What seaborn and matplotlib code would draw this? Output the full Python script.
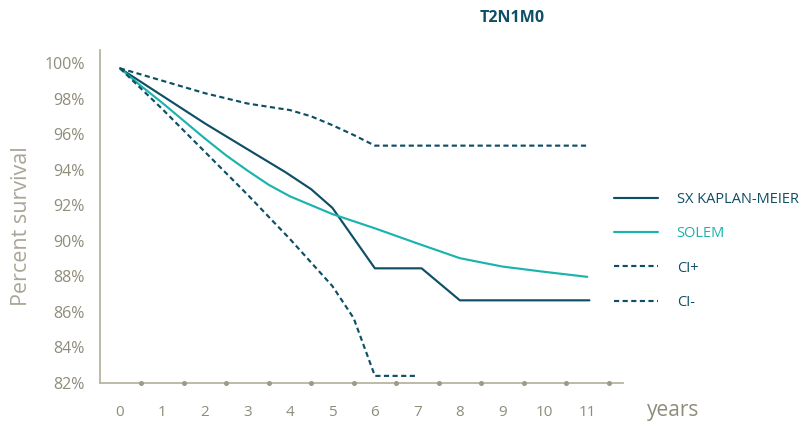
import numpy as np
import pandas as pd
import matplotlib
matplotlib.use('Agg')
import matplotlib.pyplot as plt
import seaborn as sns

# Data (years, percent survival)
km_years = [0, 1, 2, 3, 3.9, 4.5, 5.0, 6.0, 7.1, 8.0, 11.05]
km_pct = [99.7, 98.15, 96.6, 95.15, 93.85, 92.9, 91.85, 88.45, 88.45, 86.65, 86.65]

solem_years = [0, 0.5, 1, 1.5, 2, 2.5, 3, 3.5, 4, 5, 6, 7, 8, 9, 10, 11]
solem_pct = [99.7, 98.7, 97.75, 96.75, 95.75, 94.8, 93.95, 93.15, 92.5, 91.5, 90.7, 89.85, 89.02, 88.55, 88.25, 87.97]

ci_plus_years = [0, 1, 2, 3, 4, 4.5, 5, 5.5, 6, 11.05]
ci_plus_pct = [99.7, 99.0, 98.3, 97.72, 97.35, 97.0, 96.5, 95.95, 95.35, 95.35]

ci_minus_years = [0, 1, 2, 3, 4, 5, 5.5, 6, 7]
ci_minus_pct = [99.7, 97.4, 95.0, 92.6, 90.1, 87.45, 85.65, 82.4, 82.4]

series_names = ['SX KAPLAN-MEIER', 'SOLEM', 'CI+', 'CI-']
y_ticks = [82, 84, 86, 88, 90, 92, 94, 96, 98, 100]
x_ticks = list(range(0, 12))

dark = '#0e4f66'
teal = '#1bb3ad'
axis_grey = '#b7b4a3'
label_grey = '#8f8c7a'

df = pd.concat([
    pd.DataFrame({'year': km_years, 'pct': km_pct, 'series': series_names[0]}),
    pd.DataFrame({'year': solem_years, 'pct': solem_pct, 'series': series_names[1]}),
    pd.DataFrame({'year': ci_plus_years, 'pct': ci_plus_pct, 'series': series_names[2]}),
    pd.DataFrame({'year': ci_minus_years, 'pct': ci_minus_pct, 'series': series_names[3]}),
], ignore_index=True)

sns.set_style('white')
plt.rcParams['font.family'] = ['Open Sans', 'DejaVu Sans']

fig = plt.figure(figsize=(8.06, 4.28), dpi=100)
ax = fig.add_axes([100 / 806, 45 / 428, 523 / 806, 333 / 428])

palette = {series_names[0]: dark, series_names[1]: teal, series_names[2]: dark, series_names[3]: dark}
dashes = {series_names[0]: '', series_names[1]: '', series_names[2]: (2.4, 1.6), series_names[3]: (2.4, 1.6)}
sns.lineplot(data=df, x='year', y='pct', hue='series', style='series', hue_order=series_names,
             style_order=series_names, palette=palette, dashes=dashes, estimator=None,
             linewidth=1.55, ax=ax)

ax.set_xlim(-0.47, 11.84)
ax.set_ylim(82, 100.73)

for side in ['top', 'right']:
    ax.spines[side].set_visible(False)
for side in ['left', 'bottom']:
    ax.spines[side].set_color(axis_grey)
    ax.spines[side].set_linewidth(1.3)

ax.set_yticks(y_ticks)
ax.set_yticklabels([f'{v}%' for v in y_ticks])
ax.tick_params(axis='y', direction='in', length=5, width=1, color=axis_grey,
               pad=11, labelsize=11.5, labelcolor=label_grey)
ax.set_xticks(x_ticks)
ax.set_xticklabels([str(v) for v in x_ticks])
ax.tick_params(axis='x', length=0, pad=16, labelsize=11, labelcolor=label_grey)

# small dots on the x axis between the year labels
half_years = np.array(x_ticks) + 0.5
ax.plot(half_years, [82] * len(half_years), 'o', ms=2.6, color='#9d9a88', clip_on=False, zorder=5)

ax.set_ylabel('Percent survival', fontsize=15.5, color='#a9a697')
ax.yaxis.set_label_coords(-0.13, 0.47)
ax.set_xlabel('years', fontsize=15, color=label_grey)
ax.xaxis.set_label_coords(1.095, -0.05)

fig.text(512 / 806, 1 - 18 / 428, 'T2N1M0', fontsize=11.5, fontweight='bold', color=dark,
         ha='center', va='center')

handles, labels = ax.get_legend_handles_labels()
leg = ax.legend(handles, labels, loc='upper left', bbox_to_anchor=(614 / 806, 1 - 192 / 428),
                bbox_transform=fig.transFigure, frameon=False, fontsize=10.5, handlelength=3.0,
                handletextpad=1.3, labelspacing=1.32, borderpad=0, borderaxespad=0,
                labelcolor='linecolor')

fig.savefig('out.png', dpi=100)
